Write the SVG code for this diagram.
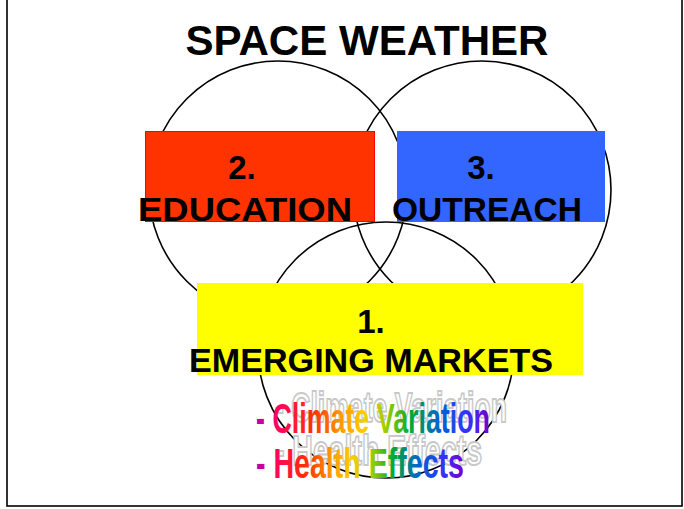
<svg xmlns="http://www.w3.org/2000/svg" width="684" height="509" viewBox="0 0 684 509">
<style>
.c{fill:none;stroke:#000;stroke-width:1.6}
.lbl{font-family:"Liberation Sans",Arial,sans-serif;font-weight:bold;fill:#000;text-anchor:middle}
.ghost{font-family:"Liberation Sans",Arial,sans-serif;font-weight:bold;fill:#fff;stroke:#c8c8c8;stroke-width:2}
.rb{font-family:"Liberation Sans",Arial,sans-serif;font-weight:bold}
</style>
<defs>
<linearGradient id="rain" x1="0" y1="0" x2="1" y2="0">
<stop offset="0" stop-color="#b000b0"/>
<stop offset="0.08" stop-color="#ff0066"/>
<stop offset="0.25" stop-color="#ff3300"/>
<stop offset="0.36" stop-color="#ff9900"/>
<stop offset="0.46" stop-color="#ffcc00"/>
<stop offset="0.56" stop-color="#99cc00"/>
<stop offset="0.66" stop-color="#00aa33"/>
<stop offset="0.78" stop-color="#0066cc"/>
<stop offset="0.9" stop-color="#3333ff"/>
<stop offset="1" stop-color="#7700cc"/>
</linearGradient>
</defs>
<rect x="0" y="0" width="684" height="509" fill="#fff"/>
<rect x="7" y="-5" width="675" height="511" fill="none" stroke="#000" stroke-width="1.6"/>
<text x="367" y="55" class="lbl" font-size="42" textLength="363" lengthAdjust="spacingAndGlyphs">SPACE WEATHER</text>
<g id="circles">
<circle class="c" cx="278" cy="190" r="129"/>
<circle class="c" cx="482" cy="190" r="129"/>
<circle class="c" cx="386" cy="350" r="128"/>
</g>
<g id="connectors"></g>
<g id="node-education">
<rect x="145.5" y="131.5" width="229" height="90" fill="#ff3300" stroke="#ff0000" stroke-width="1"/>
<text x="242" y="179" class="lbl" font-size="33">2.</text>
<text x="245" y="221" class="lbl" font-size="33" textLength="214" lengthAdjust="spacingAndGlyphs">EDUCATION</text>
</g>
<g id="node-outreach">
<rect x="397" y="131" width="208" height="91" fill="#3366ff"/>
<text x="481" y="179" class="lbl" font-size="33">3.</text>
<text x="487" y="221" class="lbl" font-size="33" textLength="190" lengthAdjust="spacingAndGlyphs">OUTREACH</text>
</g>
<g id="node-markets">
<rect x="197" y="283" width="386" height="92" fill="#ffff00"/>
<text x="371" y="333" class="lbl" font-size="33">1.</text>
<text x="371" y="372" class="lbl" font-size="33" textLength="364" lengthAdjust="spacingAndGlyphs">EMERGING MARKETS</text>
</g>
<g id="bullets">
<text x="275" y="422" class="ghost" font-size="42" textLength="232" lengthAdjust="spacingAndGlyphs">- Climate Variation</text>
<text x="275" y="465" class="ghost" font-size="42" textLength="207" lengthAdjust="spacingAndGlyphs">- Health Effects</text>
<text x="256" y="433" class="rb" font-size="42" fill="url(#rain)" textLength="234" lengthAdjust="spacingAndGlyphs">- Climate Variation</text>
<text x="256" y="478" class="rb" font-size="42" fill="url(#rain)" textLength="208" lengthAdjust="spacingAndGlyphs">- Health Effects</text>
</g>
</svg>
